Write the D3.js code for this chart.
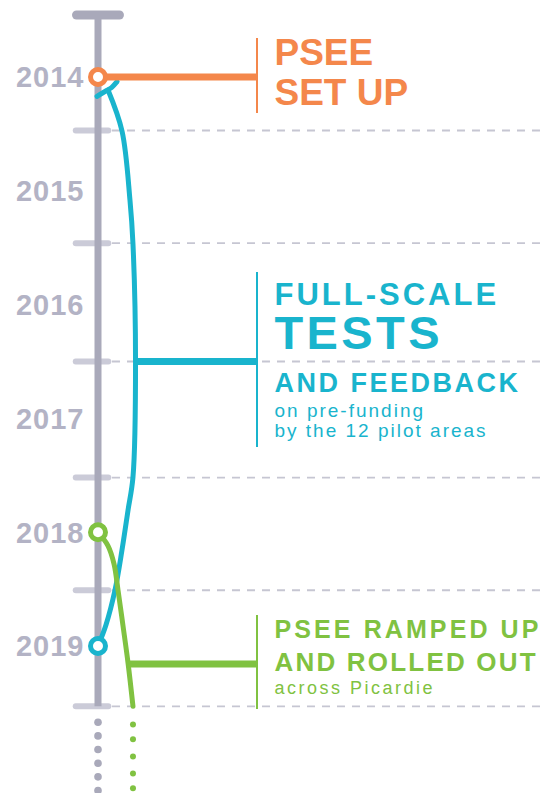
<!DOCTYPE html>
<html><head><meta charset="utf-8">
<script src="https://cdn.jsdelivr.net/npm/d3@7"></script>
<style>html,body{margin:0;padding:0;background:#fff;}svg{display:block;}</style>
</head><body>
<script>
// ---- data ----
const years = [2014, 2015, 2016, 2017, 2018, 2019];
const tickYears = [2014.47, 2015.46, 2016.5, 2017.52, 2018.51, 2019.53];
const axisStart = 2013.455, axisEnd = 2019.53;
const grayDotYears = [2019.67, 2019.79, 2019.91, 2020.03, 2020.15, 2020.27];
const greenDotYears = [2019.69, 2019.82, 2019.97, 2020.12, 2020.25];

// events: [lane offset, year]
const tealHook = [[-0.6, 2014.17], [5.0, 2014.12], [8.5, 2014.1], [12.0, 2014.04]];
const tealCurve = [[6.3, 2014.114], [15.1, 2014.475], [20.1, 2015.081], [22.0, 2015.468], [23.6, 2016.504],
                   [22.0, 2017.515], [18.9, 2017.805], [15.1, 2018.156], [10.7, 2018.508], [5.0, 2018.815], [0, 2019]];
const greenCurve = [[0, 2018.0], [6.3, 2018.12], [10.1, 2018.28], [12.6, 2018.51], [15.7, 2018.82], [18.9, 2019.15], [22.0, 2019.53]];

const connectors = [
  {color: "#f4874b", year: 2014, from: 0, bracket: [2013.657, 2014.316]},
  {color: "#19b4cd", year: 2016.5, from: 23.6, bracket: [2015.714, 2017.251]},
  {color: "#80c241", year: 2019.158, from: 18.9, bracket: [2018.728, 2019.554]}
];
const circles = [
  {color: "#f4874b", year: 2014},
  {color: "#80c241", year: 2018},
  {color: "#19b4cd", year: 2019}
];

const orangeText = [
  {t: "PSEE", year: 2013.895, size: 37, w: "bold", ls: 0},
  {t: "SET UP", year: 2014.246, size: 37, w: "bold", ls: 0}
];
const tealText = [
  {t: "FULL-SCALE", year: 2016.005, size: 31, w: "bold", ls: 3},
  {t: "TESTS", year: 2016.39, size: 47, w: "bold", ls: 3.4},
  {t: "AND FEEDBACK", year: 2016.768, size: 27, w: "bold", ls: 2.5},
  {t: "on pre-funding", year: 2016.988, size: 19, w: "normal", ls: 2},
  {t: "by the 12 pilot areas", year: 2017.163, size: 19, w: "normal", ls: 2}
];
const greenText = [
  {t: "PSEE RAMPED UP", year: 2018.93, size: 25, w: "bold", ls: 3.1},
  {t: "AND ROLLED OUT", year: 2019.22, size: 26, w: "bold", ls: 2.2},
  {t: "across Picardie", year: 2019.42, size: 18, w: "normal", ls: 2.5}
];

// ---- drawing ----
const W = 545, H = 793;
const svg = d3.select("body").append("svg").attr("width", W).attr("height", H);
const y = d3.scaleLinear().domain([2014, 2019]).range([77, 646]);
const x = d3.scaleLinear().domain([0, 100]).range([98, 257]);
const font = "'Liberation Sans', Arial, Helvetica, sans-serif";
const axisColor = "#a9a9ba", tickColor = "#cbcbd8", dashColor = "#c6c6d2";

// dashed guide lines
svg.selectAll("line.dash").data(tickYears).join("line")
  .attr("x1", x(8.8)).attr("x2", W).attr("y1", d => y(d)).attr("y2", d => y(d))
  .attr("stroke", dashColor).attr("stroke-width", 1.8).attr("stroke-dasharray", "8 7");

// tick marks
svg.selectAll("line.tick").data(tickYears).join("line")
  .attr("x1", x(-14)).attr("x2", x(6.5)).attr("y1", d => y(d)).attr("y2", d => y(d))
  .attr("stroke", tickColor).attr("stroke-width", 6).attr("stroke-linecap", "round");

// axis
svg.append("line").attr("x1", x(0)).attr("x2", x(0)).attr("y1", y(axisStart)).attr("y2", y(axisEnd))
  .attr("stroke", axisColor).attr("stroke-width", 7);
svg.append("line").attr("x1", x(-13.5)).attr("x2", x(13.5)).attr("y1", y(axisStart)).attr("y2", y(axisStart))
  .attr("stroke", axisColor).attr("stroke-width", 9).attr("stroke-linecap", "round");

// dotted continuation
svg.selectAll("circle.gdot").data(grayDotYears).join("circle")
  .attr("cx", x(0)).attr("cy", d => y(d)).attr("r", 3.8).attr("fill", axisColor);
svg.selectAll("circle.grdot").data(greenDotYears).join("circle")
  .attr("cx", x(22)).attr("cy", d => y(d)).attr("r", 3).attr("fill", "#80c241");

// year labels
svg.selectAll("text.year").data(years).join("text")
  .attr("x", x(-8.5)).attr("y", d => y(d)).attr("dy", "0.36em")
  .attr("text-anchor", "end").attr("font-family", font).attr("font-weight", "bold")
  .attr("font-size", 29).attr("letter-spacing", 1).attr("fill", "#b3b3c5").text(d => d);

const line = d3.line().x(d => x(d[0])).y(d => y(d[1])).curve(d3.curveBasis);
const curve = d3.line().x(d => x(d[0])).y(d => y(d[1])).curve(d3.curveCatmullRom.alpha(0.5));

// teal curve
svg.append("path").attr("d", curve(tealCurve)).attr("fill", "none")
  .attr("stroke", "#19b4cd").attr("stroke-width", 5).attr("stroke-linecap", "round");
svg.append("path").attr("d", line(tealHook)).attr("fill", "none")
  .attr("stroke", "#19b4cd").attr("stroke-width", 5).attr("stroke-linecap", "round").attr("stroke-linejoin", "round");
// green curve
svg.append("path").attr("d", curve(greenCurve)).attr("fill", "none")
  .attr("stroke", "#80c241").attr("stroke-width", 5).attr("stroke-linecap", "round");

// connectors and brackets
connectors.forEach(c => {
  svg.append("line").attr("x1", x(c.from)).attr("x2", x(100)).attr("y1", y(c.year)).attr("y2", y(c.year))
    .attr("stroke", c.color).attr("stroke-width", 7);
  svg.append("line").attr("x1", x(100)).attr("x2", x(100)).attr("y1", y(c.bracket[0])).attr("y2", y(c.bracket[1]))
    .attr("stroke", c.color).attr("stroke-width", 2);
});

// circles
svg.selectAll("circle.ev").data(circles).join("circle")
  .attr("cx", x(0)).attr("cy", d => y(d.year)).attr("r", 7.5)
  .attr("fill", "#fff").attr("stroke", d => d.color).attr("stroke-width", 5);

// texts
function drawText(arr, color) {
  svg.append("g").selectAll("text").data(arr).join("text")
    .attr("x", x(111)).attr("y", d => y(d.year))
    .attr("font-family", font).attr("font-weight", d => d.w).attr("font-size", d => d.size)
    .attr("letter-spacing", d => d.ls).attr("fill", color).text(d => d.t);
}
drawText(orangeText, "#f4874b");
drawText(tealText, "#19b4cd");
drawText(greenText, "#80c241");
</script>
</body></html>
